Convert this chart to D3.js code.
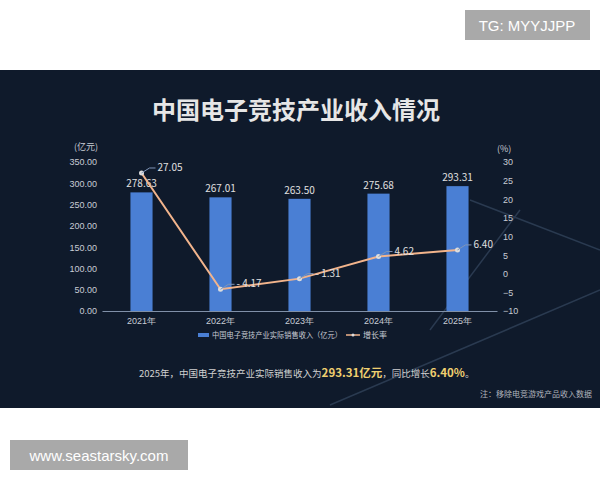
<!DOCTYPE html><html><head><meta charset="utf-8"><script src="https://cdn.jsdelivr.net/npm/d3@7"></script>
<style>body{margin:0;background:#fff}svg{display:block;font-family:"Noto Sans CJK SC","Noto Sans",sans-serif}</style></head><body><svg id="c" width="600" height="480"></svg><script>
const years=["2021年","2022年","2023年","2024年","2025年"];
const revenue=[278.63,267.01,263.50,275.68,293.31];
const growth=[27.05,-4.17,-1.31,4.62,6.40];
const leftTicks=[0,50,100,150,200,250,300,350];
const rightTicks=[-10,-5,0,5,10,15,20,25,30];
const svg=d3.select("#c");
svg.append("rect").attr("x",0).attr("y",70).attr("width",600).attr("height",338).attr("fill","#0f1a2b");
svg.append("path").attr("d","M330,405 L600,290").attr("stroke","#2a3a50").attr("stroke-width",1.5).attr("fill","none");
svg.append("path").attr("d","M430,330 L520,210").attr("stroke","#2a3a50").attr("stroke-width",1.5).attr("fill","none");
svg.append("path").attr("d","M470,200 L600,250").attr("stroke","#2a3a50").attr("stroke-width",1.5).attr("fill","none");
svg.append("rect").attr("x",465).attr("y",10).attr("width",125).attr("height",30).attr("fill","#a9a9a9");
svg.append("text").attr("x",527).attr("y",31).attr("text-anchor","middle").attr("fill","#fff").attr("font-size",15).attr("font-family","Liberation Sans, sans-serif").text("TG: MYYJJPP");
svg.append("rect").attr("x",10).attr("y",440).attr("width",178).attr("height",30).attr("fill","#a9a9a9");
svg.append("text").attr("x",99).attr("y",461).attr("text-anchor","middle").attr("fill","#fff").attr("font-size",15).attr("font-family","Liberation Sans, sans-serif").text("www.seastarsky.com");
svg.append("text").attr("x",296).attr("y",119).attr("text-anchor","middle").attr("fill","#e6e6e6").attr("font-size",24).attr("font-weight","bold").text("中国电子竞技产业收入情况");
const x=d3.scaleBand().domain(years).range([102,497]).paddingInner(0.72).paddingOuter(0.36);
const yL=d3.scaleLinear().domain([0,350]).range([311,162]);
const yR=d3.scaleLinear().domain([-10,30]).range([311,162]);
const col="#c8ccd4";
const gl=svg.append("g").attr("transform","translate(100,0)").call(d3.axisLeft(yL).tickValues(leftTicks).tickFormat(d3.format(".2f")).tickSize(0));
gl.select(".domain").remove();gl.selectAll("text").attr("fill",col).attr("font-size",9);
const gr=svg.append("g").attr("transform","translate(497,0)").call(d3.axisRight(yR).tickValues(rightTicks).tickSize(0).tickPadding(6));
gr.select(".domain").remove();gr.selectAll("text").attr("fill",col).attr("font-size",9);
svg.append("text").attr("x",74).attr("y",150).attr("fill",col).attr("font-size",9).text("(亿元)");
svg.append("text").attr("x",497).attr("y",152).attr("fill",col).attr("font-size",9).text("(%)");
svg.selectAll(".bar").data(revenue).join("rect").attr("x",(d,i)=>x(years[i])).attr("width",x.bandwidth()).attr("y",d=>yL(d)).attr("height",d=>311-yL(d)).attr("fill","#4a7fd4");
const gx=svg.append("g").attr("transform","translate(0,311)").call(d3.axisBottom(x).tickSize(0).tickPadding(7));
gx.select(".domain").attr("stroke","#8090a8");gx.selectAll("text").attr("fill",col).attr("font-size",9);
svg.selectAll(".bl").data(revenue).join("text").attr("x",(d,i)=>x(years[i])+x.bandwidth()/2).attr("y",d=>yL(d)-5).attr("text-anchor","middle").attr("fill","#e0e0e0").attr("font-size",10).text(d=>d.toFixed(2));
const cx=(i)=>x(years[i])+x.bandwidth()/2;
svg.append("path").datum(growth).attr("d",d3.line().x((d,i)=>cx(i)).y(d=>yR(d))).attr("fill","none").attr("stroke","#f2b48c").attr("stroke-width",2);
svg.selectAll(".pt").data(growth).join("circle").attr("cx",(d,i)=>cx(i)).attr("cy",d=>yR(d)).attr("r",2.5).attr("fill","#ddd");
svg.selectAll(".gl").data(growth).join("path").attr("d",(d,i)=>`M${cx(i)},${yR(d)} l8,-5 h6`).attr("stroke","#7f95b8").attr("fill","none");
svg.selectAll(".gt").data(growth).join("text").attr("x",(d,i)=>cx(i)+16).attr("y",(d)=>yR(d)-2).attr("fill","#e0e0e0").attr("font-size",10).text(d=>d<0?"- "+Math.abs(d).toFixed(2):d.toFixed(2));
svg.append("rect").attr("x",198).attr("y",333).attr("width",11).attr("height",4).attr("fill","#4a7fd4");
svg.append("text").attr("x",212).attr("y",338).attr("fill",col).attr("font-size",7.5).attr("textLength",130).attr("lengthAdjust","spacingAndGlyphs").text("中国电子竞技产业实际销售收入（亿元）");
svg.append("path").attr("d","M346,335 h14").attr("stroke","#f2b48c").attr("stroke-width",1.5);
svg.append("circle").attr("cx",353).attr("cy",335).attr("r",1.5).attr("fill","#ddd");
svg.append("text").attr("x",363).attr("y",338).attr("fill",col).attr("font-size",8).text("增长率");
const t=svg.append("text").attr("x",139).attr("y",377).attr("fill","#d0d0d0").attr("font-size",9.5);
t.append("tspan").text("2025年，中国电子竞技产业实际销售收入为");
t.append("tspan").attr("fill","#f0d070").attr("font-size",11.5).attr("font-weight","bold").text("293.31亿元");
t.append("tspan").text("，同比增长");
t.append("tspan").attr("fill","#f0d070").attr("font-size",11.5).attr("font-weight","bold").text("6.40%");
t.append("tspan").text("。");
svg.append("text").attr("x",592).attr("y",397).attr("text-anchor","end").attr("fill","#b0b4bc").attr("font-size",8).text("注：移除电竞游戏产品收入数据");
</script></body></html>
